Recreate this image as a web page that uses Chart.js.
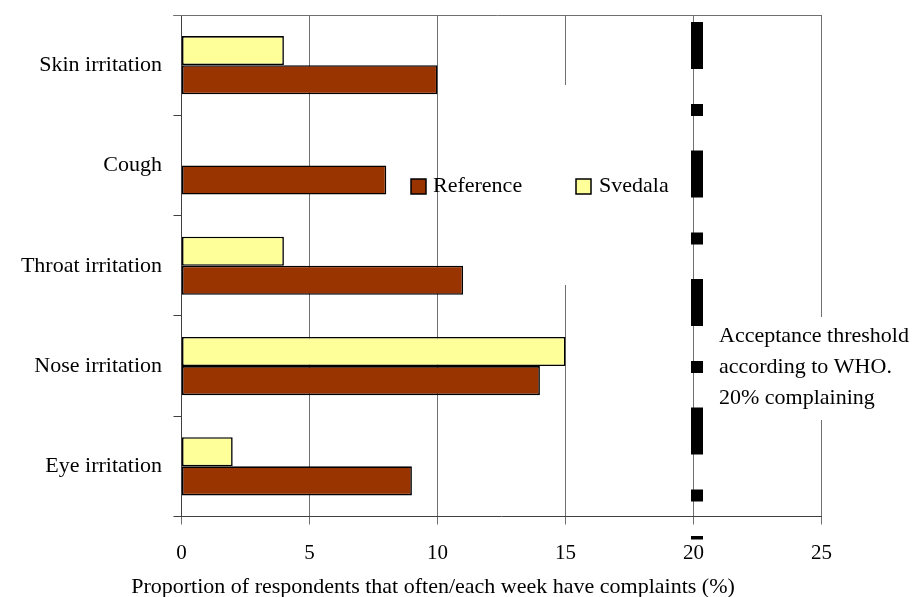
<!DOCTYPE html>
<html>
<head>
<meta charset="utf-8">
<script src="https://cdn.jsdelivr.net/npm/chart.js@4.4.1/dist/chart.umd.min.js"></script>
<style>
  html, body { margin: 0; padding: 0; background: #fff; }
  #wrap { width: 924px; height: 597px; }
</style>
</head>
<body>
<div id="wrap"><canvas id="chart"></canvas></div>
<script>
const categories = ['Skin irritation', 'Cough', 'Throat irritation', 'Nose irritation', 'Eye irritation'];
const svedalaValues = [4, 0, 4, 15, 2];
const referenceValues = [10, 8, 11, 14, 9];
const xTicks = [0, 5, 10, 15, 20, 25];
const thresholdValue = 20;
const thresholdNote = ['Acceptance threshold', 'according to WHO.', '20% complaining'];
const axisTitle = 'Proportion of respondents that often/each week have complaints (%)';

const FONT = '"Liberation Serif", "Times New Roman", serif';
const gridColor = '#707070';
const axisColor = '#404040';

// legend, WHO line, note and axis title are drawn by hand
const overlay = {
  id: 'overlay',
  beforeDatasetsDraw(chart) {
    const { ctx, chartArea: a, scales: { x } } = chart;
    ctx.save();
    ctx.strokeStyle = gridColor;
    ctx.lineWidth = 1;
    ctx.beginPath();
    ctx.moveTo(a.left - 8, Math.round(a.top) + 0.5);
    ctx.lineTo(a.right, Math.round(a.top) + 0.5);
    ctx.stroke();
    // white boxes behind the legend and the note cut the grid
    ctx.fillStyle = '#fff';
    const g15 = x.getPixelForValue(15);
    ctx.fillRect(g15 - 3, 85, 6, 200);
    ctx.fillRect(a.right - 3, 317, 6, 103);
    ctx.restore();
  },
  afterDatasetsDraw(chart) {
    const { ctx, chartArea: a, scales: { x } } = chart;
    ctx.save();

    const tx = x.getPixelForValue(thresholdValue) + 3.5;
    ctx.strokeStyle = '#000';
    ctx.lineWidth = 12;
    ctx.setLineDash([47, 35, 12, 34.5]);
    ctx.beginPath();
    ctx.moveTo(tx, a.top + 7);
    ctx.lineTo(tx, a.bottom + 23);
    ctx.stroke();
    ctx.setLineDash([]);

    ctx.font = '22px ' + FONT;
    ctx.fillStyle = '#000';
    ctx.textBaseline = 'alphabetic';
    ctx.textAlign = 'left';
    const items = [
      { ds: chart.data.datasets[1], bx: 411, tx: 433 },
      { ds: chart.data.datasets[0], bx: 576, tx: 599 }
    ];
    items.forEach(it => {
      ctx.fillStyle = it.ds.backgroundColor;
      ctx.fillRect(it.bx, 179, 15, 15);
      ctx.strokeStyle = '#000';
      ctx.lineWidth = 1.5;
      ctx.strokeRect(it.bx, 179, 15, 15);
      ctx.fillStyle = '#000';
      ctx.fillText(it.ds.label, it.tx, 191.5);
    });

    thresholdNote.forEach((line, i) => {
      ctx.fillText(line, 719, 341.5 + i * 31.2);
    });

    ctx.textAlign = 'center';
    ctx.fillText(axisTitle, 433, 592.5);
    ctx.restore();
  }
};

new Chart(document.getElementById('chart'), {
  type: 'bar',
  data: {
    labels: categories,
    datasets: [
      {
        label: 'Svedala',
        data: svedalaValues,
        backgroundColor: '#ffff99',
        borderColor: '#000',
        borderWidth: 1.6,
        borderSkipped: false
      },
      {
        label: 'Reference',
        data: referenceValues,
        backgroundColor: '#993300',
        borderColor: '#000',
        borderWidth: 1.6,
        borderSkipped: false
      }
    ]
  },
  options: {
    indexAxis: 'y',
    responsive: true,
    maintainAspectRatio: false,
    animation: false,
    categoryPercentage: 0.58,
    barPercentage: 1,
    layout: { padding: { top: 15, right: 102.5, bottom: 0, left: 0 } },
    plugins: {
      legend: { display: false },
      tooltip: { enabled: false }
    },
    scales: {
      x: {
        type: 'linear',
        min: 0,
        max: 25,
        afterBuildTicks(scale) {
          scale.ticks = xTicks.map(v => ({ value: v }));
        },
        afterFit(scale) { scale.height = 80.5; },
        grid: { color: gridColor, tickColor: gridColor, tickLength: 8, drawTicks: true },
        border: { color: axisColor },
        ticks: { color: '#000', font: { family: FONT, size: 21 }, padding: 16 }
      },
      y: {
        afterFit(scale) {
          scale.width = 181.5;
          scale.paddingTop = 0;
          scale.paddingBottom = 0;
        },
        grid: { drawOnChartArea: false, tickColor: axisColor, tickLength: 8, offset: true },
        border: { color: axisColor },
        ticks: { color: '#000', font: { family: FONT, size: 22 }, padding: 11.5 }
      }
    }
  },
  plugins: [overlay]
});
</script>
</body>
</html>
